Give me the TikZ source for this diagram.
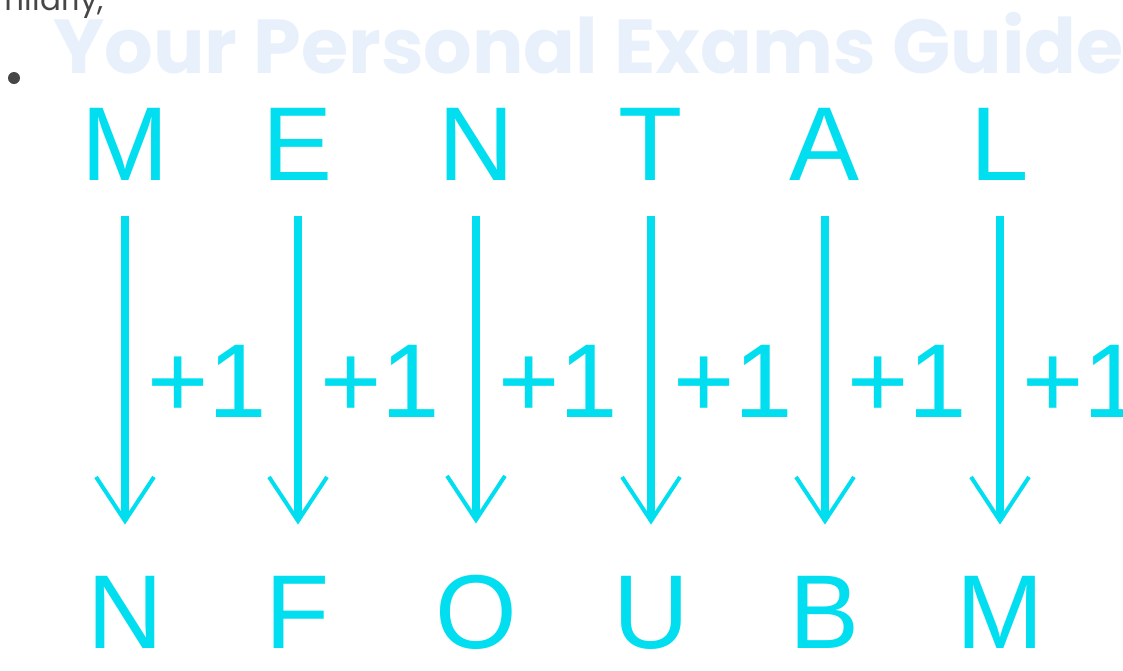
\documentclass[tikz,border=0pt]{standalone}
\usepackage{fontspec}
\setmainfont{Liberation Sans}
\newfontfamily\popfont{Poppins}
\usetikzlibrary{arrows.meta}
\definecolor{cy}{RGB}{0,222,240}
\definecolor{wm}{RGB}{232,240,251}
\definecolor{tx}{RGB}{70,70,70}
\tikzset{
  letter/.style={anchor=base, inner sep=0pt, text=cy, font=\fontsize{105}{105}\selectfont},
  plusone/.style={anchor=base west, inner sep=0pt, text=cy, font=\fontsize{105}{105}\selectfont},
  arr/.style={draw=cy, line width=8pt, shorten <=36pt, shorten >=51pt,
    -{Straight Barb[length=44pt, width=58pt, line width=4pt]}},
}
\begin{document}
\begin{tikzpicture}[x=1pt, y=-1pt]
\useasboundingbox (0,0) rectangle (1123,670);
\fill[white] (0,0) rectangle (1123,670);
% watermark
\node[anchor=base west, inner sep=0pt, text=wm] (wmark) at (53,73)
  {\resizebox{1070pt}{!}{\popfont\bfseries Your Personal Exams Guide}};
% cropped line of text above
\node[anchor=base east, inner sep=0pt, text=tx, font=\popfont\fontsize{31}{31}\selectfont] (prev) at (104,10) {milarly,};
% bullet
\fill[tx] (14,78) circle (6);
% letters
\foreach \i/\x/\a/\b in {1/125/M/N, 2/298/E/F, 3/476/N/O, 4/651/T/U, 5/825/A/B, 6/1000/L/M}{
  \node[letter] (t\i) at (\x,180) {\a};
  \node[letter] (b\i) at (\x,648) {\b};
  \draw[arr] (t\i.south) -- (b\i.north);
  \node[plusone] (p\i) at (\x+22,417) {+1};
}
\end{tikzpicture}
\end{document}
